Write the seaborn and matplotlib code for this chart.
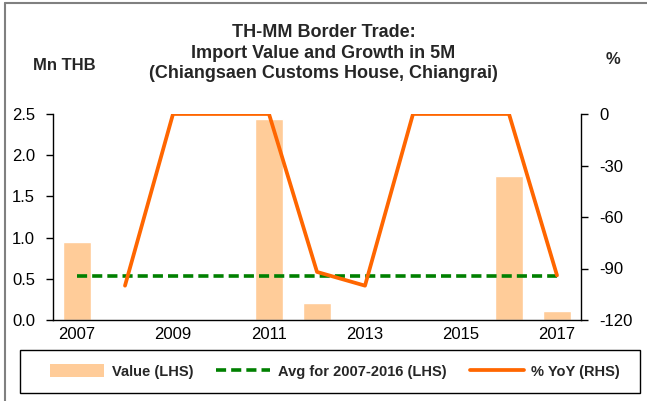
import numpy as np
import pandas as pd
import matplotlib
matplotlib.use("Agg")
import matplotlib.pyplot as plt
from matplotlib.patches import Patch, Rectangle
from matplotlib.lines import Line2D
import seaborn as sns

sns.set_theme(style="white")
plt.rcParams["font.family"] = ["Liberation Sans", "DejaVu Sans"]

# Data
years = [2007, 2008, 2009, 2010, 2011, 2012, 2013, 2014, 2015, 2016, 2017]
value_mn_thb = [0.95, 0.0, 0.0, 0.0, 2.44, 0.21, 0.0, 0.0, 0.0, 1.75, 0.11]
yoy_pct = [np.nan, -100.0, 0.0, 0.0, 0.0, -92.0, -100.0, 0.0, 0.0, 0.0, -94.0]
avg_2007_2016 = 0.53
tick_years = ["2007", "2009", "2011", "2013", "2015", "2017"]

BAR_C = "#FFCC99"
LINE_C = "#FF6600"
AVG_C = "#008000"
AVG_DASH = (0, (2.8, 1.4))

df = pd.DataFrame({
    "year": [str(y) for y in years],
    "pos": np.arange(len(years)),
    "value": value_mn_thb,
    "yoy": yoy_pct,
    "avg": [avg_2007_2016] * len(years),
})

W, H = 647, 401
fig = plt.figure(figsize=(W / 100, H / 100), dpi=100)
ax = fig.add_axes([53 / W, 1 - 320 / H, (581 - 53) / W, (320 - 114) / H])

sns.barplot(data=df, x="year", y="value", color=BAR_C, width=0.6,
            saturation=1, ax=ax, zorder=1)
sns.lineplot(data=df, x="pos", y="avg", color=AVG_C, lw=2.6,
             dashes=False, ax=ax, zorder=3)
ax.lines[-1].set_linestyle(AVG_DASH)

ax2 = ax.twinx()
sns.lineplot(data=df, x="pos", y="yoy", color=LINE_C, lw=2.7, ax=ax2, zorder=4)

ax.set_xlim(-0.5, len(years) - 0.5)
ax.set_ylim(0, 2.5)
ax2.set_ylim(-120, 0)
lhs_ticks = [0, 0.5, 1.0, 1.5, 2.0, 2.5]
ax.set_yticks(lhs_ticks)
ax.set_yticklabels([f"{v:.1f}" for v in lhs_ticks])
ax2.set_yticks([0, -30, -60, -90, -120])
ax2.set_yticklabels(["0", "-30", "-60", "-90", "-120"])

# Year labels on every second category, tick marks on category boundaries
label_pos = [years.index(int(t)) for t in tick_years]
ax.set_xticks(label_pos)
ax.set_xticklabels(tick_years)
ax.set_xticks(np.arange(-0.5, len(years)), minor=True)
ax.tick_params(axis="x", which="major", length=0, pad=5, labelsize=12, colors="black")
ax.tick_params(axis="x", which="minor", length=5, width=1, color="black", direction="out")
ax.tick_params(axis="y", length=5, width=1, color="black", direction="out",
               left=True, labelsize=12, labelcolor="black", pad=8)
ax2.tick_params(axis="y", length=5, width=1, color="black", direction="out",
                right=True, labelsize=12, labelcolor="black", pad=8)
for a in (ax, ax2):
    a.set_xlabel("")
    a.set_ylabel("")
    a.grid(False)
    a.spines["top"].set_visible(False)
ax.spines["right"].set_visible(False)
ax2.spines["left"].set_visible(False)
ax2.spines["bottom"].set_visible(False)
for sp in (ax.spines["left"], ax.spines["bottom"], ax2.spines["right"]):
    sp.set_color("black")
    sp.set_linewidth(1)

# Titles and axis units
fig.text(0.5, 1 - 53 / H,
         "TH-MM Border Trade:\nImport Value and Growth in 5M\n(Chiangsaen Customs House, Chiangrai)",
         ha="center", va="center", fontsize=13, fontweight="bold", linespacing=1.3)
fig.text(64 / W, 1 - 66 / H, "Mn THB", ha="center", va="center",
         fontsize=12, fontweight="bold")
fig.text(613 / W, 1 - 60 / H, "%", ha="center", va="center",
         fontsize=12, fontweight="bold")

# Legend inside a boxed strip under the plot
fig.add_artist(Rectangle((20 / W, 1 - 393 / H), 620 / W, 43 / H, transform=fig.transFigure,
                         facecolor="white", edgecolor="black", lw=1))
handles = [
    Patch(facecolor=BAR_C, edgecolor="none"),
    Line2D([0], [0], color=AVG_C, lw=2.6, linestyle=AVG_DASH),
    Line2D([0], [0], color=LINE_C, lw=2.7),
]
labels = ["Value (LHS)", "Avg for 2007-2016 (LHS)", "% YoY (RHS)"]
leg = fig.legend(handles, labels, ncol=3, loc="center",
                 bbox_to_anchor=(335 / W, 1 - 371.5 / H),
                 frameon=False, handlelength=3.7, handleheight=0.9,
                 handletextpad=0.5, columnspacing=1.6, borderaxespad=0, borderpad=0,
                 prop={"weight": "bold", "size": 10.5})

# Outer frame lines
fig.add_artist(Line2D([5 / W, 5 / W], [0, 1 - 3 / H], color="#808080", lw=1.5,
                      transform=fig.transFigure))
fig.add_artist(Line2D([5 / W, 1], [1 - 3 / H, 1 - 3 / H], color="#808080", lw=1.5,
                      transform=fig.transFigure))

fig.savefig("out.png", dpi=100, facecolor="white")
